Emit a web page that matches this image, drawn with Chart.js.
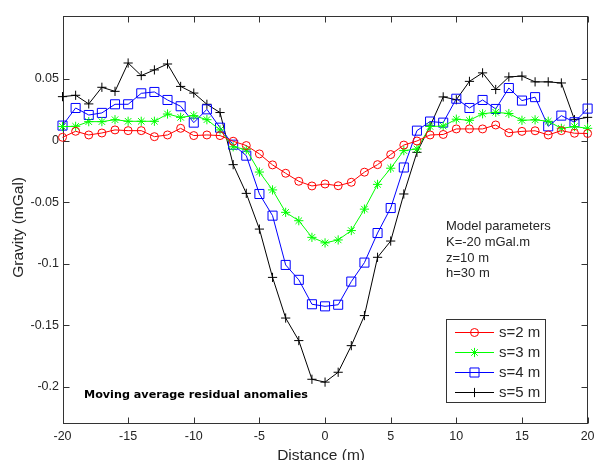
<!DOCTYPE html>
<html>
<head>
<meta charset="utf-8">
<script src="https://cdn.jsdelivr.net/npm/chart.js@4/dist/chart.umd.min.js"></script>
<style>
  html, body { margin: 0; padding: 0; background: #ffffff; }
  #wrap { width: 595px; height: 460px; }
</style>
</head>
<body>
<div id="wrap"><canvas id="c" width="595" height="460"></canvas></div>
<script>
// Profile positions (m)
const distances = [-20, -19, -18, -17, -16, -15, -14, -13, -12, -11, -10, -9, -8, -7, -6, -5, -4, -3, -2, -1,
                   0, 1, 2, 3, 4, 5, 6, 7, 8, 9, 10, 11, 12, 13, 14, 15, 16, 17, 18, 19, 20];

// Moving average residual anomalies (mGal) for each window spacing s
const residualS2 = [0.0027, 0.0076, 0.0046, 0.0062, 0.0087, 0.0081, 0.0081, 0.0032, 0.0046, 0.0100,
                    0.0041, 0.0046, 0.0041, -0.0005, -0.0040, -0.0108, -0.0197, -0.0265, -0.0330, -0.0368,
                    -0.0352, -0.0366, -0.0338, -0.0256, -0.0195, -0.0113, -0.0036, -0.0003, 0.0046, 0.0050,
                    0.0095, 0.0095, 0.0095, 0.0127, 0.0064, 0.0075, 0.0080, 0.0046, 0.0081, 0.0060, 0.0058];
const residualS3 = [0.0114, 0.0116, 0.0154, 0.0154, 0.0170, 0.0157, 0.0157, 0.0157, 0.0216, 0.0189,
                    0.0203, 0.0170, 0.0087, -0.0050, -0.0073, -0.0255, -0.0400, -0.0582, -0.0650, -0.0785,
                    -0.0830, -0.0806, -0.0730, -0.0556, -0.0355, -0.0224, -0.0081, -0.0068, 0.0115, 0.0118,
                    0.0174, 0.0165, 0.0218, 0.0230, 0.0220, 0.0165, 0.0169, 0.0157, 0.0100, 0.0114, 0.0100];
const residualS4 = [0.0122, 0.0265, 0.0208, 0.0225, 0.0295, 0.0295, 0.0384, 0.0395, 0.0330, 0.0279,
                    0.0146, 0.0254, 0.0105, -0.0033, -0.0122, -0.0433, -0.0609, -0.1009, -0.1130, -0.1328,
                    -0.1345, -0.1332, -0.1144, -0.0990, -0.0750, -0.0547, -0.0218, 0.0081, 0.0155, 0.0146,
                    0.0340, 0.0265, 0.0330, 0.0257, 0.0427, 0.0325, 0.0353, 0.0116, 0.0203, 0.0149, 0.0260];
const residualS5 = [0.0357, 0.0368, 0.0298, 0.0433, 0.0400, 0.0630, 0.0528, 0.0574, 0.0622, 0.0440,
                    0.0386, 0.0295, 0.0228, -0.0195, -0.0428, -0.0718, -0.1110, -0.1440, -0.1623, -0.1937,
                    -0.1960, -0.1880, -0.1664, -0.1420, -0.0947, -0.0815, -0.0433, -0.0095, 0.0118, 0.0355,
                    0.0332, 0.0481, 0.0550, 0.0415, 0.0517, 0.0524, 0.0477, 0.0477, 0.0468, 0.0170, 0.0189];

const seriesLabels = ['s=2 m', 's=3 m', 's=4 m', 's=5 m'];

const xTicks = [-20, -15, -10, -5, 0, 5, 10, 15, 20];
const yTicks = [-0.2, -0.15, -0.1, -0.05, 0, 0.05];
const yTickLabels = ['-0.2', '-0.15', '-0.1', '-0.05', '0', '0.05'];

const xTitle = 'Distance (m)';
const yTitle = 'Gravity (mGal)';
const plotNote = 'Moving average residual anomalies';
const modelLines = ['Model parameters', 'K=-20 mGal.m', 'z=10 m', 'h=30 m'];

const SANS = '"Liberation Sans", Arial, Helvetica, sans-serif';
const INK = '#262626';

function toPoints(values) {
  return distances.map((d, i) => ({ x: d, y: values[i] }));
}

function series(label, values, color, style, radius) {
  return {
    label: label,
    data: toPoints(values),
    showLine: true,
    borderColor: color,
    borderWidth: 1,
    backgroundColor: 'rgba(0,0,0,0)',
    pointStyle: style,
    pointRadius: radius,
    pointHoverRadius: radius,
    pointBorderColor: color,
    pointBackgroundColor: 'rgba(0,0,0,0)',
    pointBorderWidth: 1,
    tension: 0,
    clip: false
  };
}

// Marker used in the legend rows
function legendMarker(ctx, ds, x, y) {
  ctx.strokeStyle = ds.pointBorderColor;
  ctx.fillStyle = 'rgba(0,0,0,0)';
  ctx.lineWidth = 1;
  if (Chart.helpers && Chart.helpers.drawPoint) {
    Chart.helpers.drawPoint(ctx, { pointStyle: ds.pointStyle, radius: ds.pointRadius, rotation: 0, borderWidth: 1 }, x, y);
  }
}

// Box, inward ticks, axis titles, notes and legend
const framePlugin = {
  id: 'frame',
  beforeDatasetsDraw(chart) {
    const { ctx, chartArea: a, scales: { x, y } } = chart;
    const L = Math.round(a.left) + 0.5, R = Math.round(a.right) - 0.5;
    const T = Math.round(a.top) + 0.5, B = Math.round(a.bottom) - 0.5;
    ctx.save();
    ctx.strokeStyle = '#333333';
    ctx.lineWidth = 1;
    ctx.strokeRect(L, T, R - L, B - T);
    ctx.beginPath();
    x.ticks.forEach(t => {
      const px = Math.round(x.getPixelForValue(t.value)) + 0.5;
      ctx.moveTo(px, B); ctx.lineTo(px, B - 6);
      ctx.moveTo(px, T); ctx.lineTo(px, T + 6);
    });
    y.ticks.forEach(t => {
      const py = Math.round(y.getPixelForValue(t.value)) + 0.5;
      ctx.moveTo(L, py); ctx.lineTo(L + 6, py);
      ctx.moveTo(R, py); ctx.lineTo(R - 6, py);
    });
    ctx.stroke();
    ctx.restore();
  },
  afterDatasetsDraw(chart) {
    const { ctx, chartArea: a } = chart;
    ctx.save();
    ctx.fillStyle = INK;

    // axis titles
    ctx.font = '15.5px ' + SANS;
    ctx.textAlign = 'center';
    ctx.textBaseline = 'alphabetic';
    ctx.fillText(xTitle, (a.left + a.right) / 2 - 4, 459.5);
    ctx.save();
    ctx.translate(23, (a.top + a.bottom) / 2 + 7.5);
    ctx.rotate(-Math.PI / 2);
    ctx.fillText(yTitle, 0, 0);
    ctx.restore();

    // model parameters block
    ctx.font = '13px ' + SANS;
    ctx.textAlign = 'left';
    ctx.textBaseline = 'middle';
    modelLines.forEach((t, i) => ctx.fillText(t, 446, 226.5 + i * 15.8));

    // caption inside the plot
    ctx.fillStyle = '#000000';
    ctx.font = 'bold 11.2px "DejaVu Sans", sans-serif';
    ctx.fillText(plotNote, 84, 395);

    // legend
    const bx = 446.5, by = 319.5, bw = 99, bh = 83;
    ctx.fillStyle = '#ffffff';
    ctx.fillRect(bx, by, bw, bh);
    ctx.strokeStyle = '#333333';
    ctx.lineWidth = 1;
    ctx.strokeRect(bx, by, bw, bh);
    chart.data.datasets.forEach((ds, i) => {
      const ry = Math.round(331.7 + i * 20) + 0.5;
      ctx.strokeStyle = ds.borderColor;
      ctx.lineWidth = 1;
      ctx.beginPath();
      ctx.moveTo(455, ry); ctx.lineTo(494, ry);
      ctx.stroke();
      legendMarker(ctx, ds, 474.5, ry);
      ctx.fillStyle = INK;
      ctx.font = '15px ' + SANS;
      ctx.textAlign = 'left';
      ctx.textBaseline = 'middle';
      ctx.fillText(ds.label, 499, ry + 0.5);
    });
    ctx.restore();
  }
};

new Chart(document.getElementById('c'), {
  type: 'scatter',
  data: {
    datasets: [
      series(seriesLabels[0], residualS2, '#ff0000', 'circle', 4),
      series(seriesLabels[1], residualS3, '#00ff00', 'star', 4.6),
      series(seriesLabels[2], residualS4, '#0000ff', 'rect', 6.4),
      series(seriesLabels[3], residualS5, '#000000', 'cross', 4.6)
    ]
  },
  options: {
    responsive: false,
    animation: false,
    devicePixelRatio: 1,
    events: [],
    layout: { padding: { top: 15.7, right: 5.5, bottom: 0, left: 0 } },
    plugins: {
      legend: { display: false },
      tooltip: { enabled: false },
      title: { display: false }
    },
    scales: {
      x: {
        type: 'linear',
        min: -20,
        max: 20,
        afterBuildTicks: s => { s.ticks = xTicks.map(v => ({ value: v })); },
        afterFit: s => { s.height = 36; s.paddingLeft = 0; s.paddingRight = 0; },
        grid: { display: false, drawTicks: false },
        border: { display: false },
        ticks: {
          color: INK,
          font: { family: SANS, size: 12.5 },
          padding: 5,
          maxRotation: 0,
          autoSkip: false
        }
      },
      y: {
        type: 'linear',
        min: -0.23,
        max: 0.1014,
        afterBuildTicks: s => { s.ticks = yTicks.map(v => ({ value: v })); },
        afterFit: s => { s.width = 62.5; s.paddingTop = 0; s.paddingBottom = 0; },
        grid: { display: false, drawTicks: false },
        border: { display: false },
        ticks: {
          color: INK,
          font: { family: SANS, size: 12.5 },
          padding: 3.5,
          autoSkip: false,
          callback: (v, i) => yTickLabels[i]
        }
      }
    }
  },
  plugins: [framePlugin]
});
</script>
</body>
</html>
